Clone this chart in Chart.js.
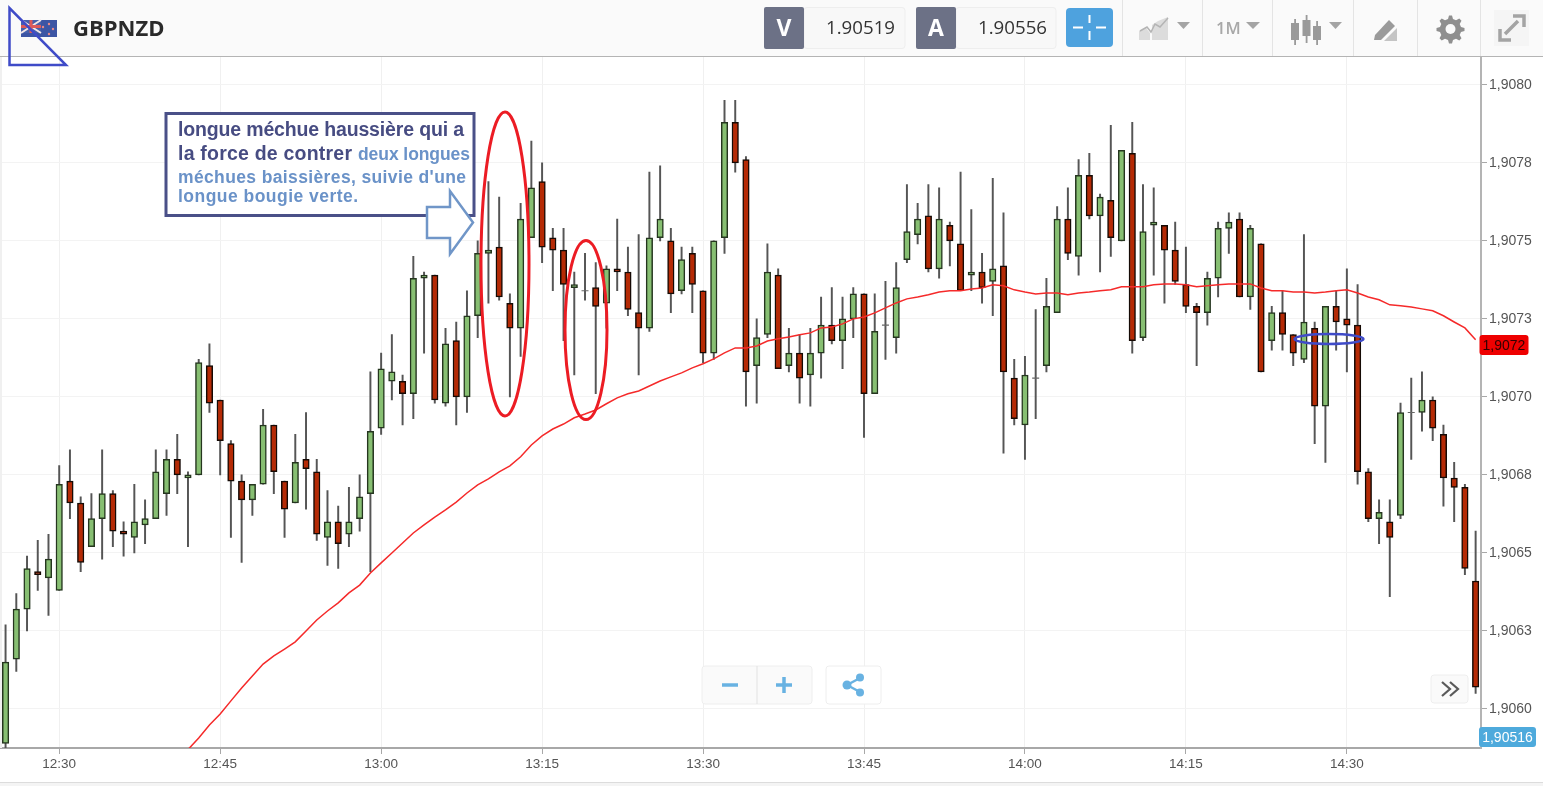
<!DOCTYPE html>
<html lang="fr"><head><meta charset="utf-8"><title>GBPNZD</title>
<script src="https://cdn.jsdelivr.net/npm/chart.js@4"></script>
<style>
html,body{margin:0;padding:0;background:#fff;width:1543px;height:786px;overflow:hidden}
#wrap{position:absolute;left:0;top:0;width:1543px;height:786px;overflow:hidden}
canvas{position:absolute;left:-5px;top:0}
svg.ov{position:absolute;left:0;top:0;pointer-events:none}
</style></head><body>
<div id="wrap"><canvas id="c" width="1548" height="786" style="width:1548px;height:786px"></canvas>
<svg class="ov" width="1543" height="786" viewBox="0 0 1543 786" font-family="'Liberation Sans',Arial,sans-serif">
  <rect x="0" y="57" width="2" height="691" fill="#f0f0f0"/>
  <!-- top bar -->
  <rect x="0" y="0" width="1543" height="56" fill="#fafafa"/>
  <line x1="0" y1="56.5" x2="1543" y2="56.5" stroke="#b4b4b4" stroke-width="1"/>
  <g>
    <rect x="21" y="20" width="36" height="17" fill="#3c55a4"/>
    <rect x="21" y="20" width="20" height="13" fill="#4560ac"/>
    <path d="M21 20L41 33M41 20L21 33" stroke="#f3e6e6" stroke-width="2"/>
    <path d="M31 20V33M21 26.500H41" stroke="#dc5a5a" stroke-width="3"/>
    <circle cx="43" cy="27" r="1.200" fill="#e88a8a"/><circle cx="49" cy="24" r="1.200" fill="#e88a8a"/><circle cx="53" cy="29" r="1.200" fill="#e88a8a"/><circle cx="49" cy="34" r="1.200" fill="#e88a8a"/>
  </g>
  <text x="73" y="35.500" font-family="'Open Sans',sans-serif" font-weight="700" font-size="22" fill="#2a2a2a">GBPNZD</text>
  <path d="M9.500 8V65H66Z" fill="none" stroke="#3f4bc8" stroke-width="2.500"/>
  <g stroke="#e4e4e4"><line x1="1122.500" y1="0" x2="1122.500" y2="56"/><line x1="1202.500" y1="0" x2="1202.500" y2="56"/><line x1="1272.500" y1="0" x2="1272.500" y2="56"/><line x1="1353.500" y1="0" x2="1353.500" y2="56"/><line x1="1417.500" y1="0" x2="1417.500" y2="56"/><line x1="1480.500" y1="0" x2="1480.500" y2="56"/></g>
  <rect x="804" y="7.500" width="101" height="41" rx="3" fill="#f8f8f8" stroke="#eee"/>
  <rect x="764" y="7" width="40" height="42" rx="2" fill="#6c7186"/>
  <text x="784" y="36" text-anchor="middle" font-family="'Open Sans',sans-serif" font-weight="700" font-size="23" fill="#fff">V</text>
  <text x="895" y="34" text-anchor="end" font-family="'Open Sans',sans-serif" font-size="18" fill="#333" textLength="69" lengthAdjust="spacingAndGlyphs">1.90519</text>
  <rect x="956" y="7.500" width="100" height="41" rx="3" fill="#f8f8f8" stroke="#eee"/>
  <rect x="916" y="7" width="40" height="42" rx="2" fill="#6c7186"/>
  <text x="936" y="36" text-anchor="middle" font-family="'Open Sans',sans-serif" font-weight="700" font-size="23" fill="#fff">A</text>
  <text x="1047" y="34" text-anchor="end" font-family="'Open Sans',sans-serif" font-size="18" fill="#333" textLength="69" lengthAdjust="spacingAndGlyphs">1.90556</text>
  <rect x="1066" y="8" width="47" height="39" rx="4" fill="#4ea2de"/>
  <path d="M1089.500 15V23M1089.500 31V40M1073 27.500H1083M1096 27.500H1106" stroke="#fff" stroke-width="2"/>
  <g fill="#dcdcdc"><path d="M1139 40V31L1146 28L1150 33V40Z"/><path d="M1152 40V25L1158 21L1168 17V40Z"/></g>
  <path d="M1140 31L1147 27L1151 32L1155 24L1160 27L1168 18" fill="none" stroke="#b4b4b4" stroke-width="1.500"/>
  <path d="M1177 22H1190L1183.500 29Z" fill="#a4a4a4"/>
  <text x="1216" y="34" font-family="'Open Sans',sans-serif" font-weight="600" font-size="16.500" fill="#a8a8a8">1M</text>
  <path d="M1246 22H1260L1253 29Z" fill="#a4a4a4"/>
  <g fill="#9a9a9a"><rect x="1291" y="23" width="8" height="17"/><rect x="1302.500" y="20" width="8" height="16"/><rect x="1313" y="26" width="8" height="14"/><rect x="1294.200" y="19" width="1.800" height="26"/><rect x="1305.700" y="15" width="1.800" height="28"/><rect x="1316.200" y="21" width="1.800" height="24"/></g>
  <path d="M1329 22H1342L1335.500 29Z" fill="#a4a4a4"/>
  <path d="M1375 35L1389 20L1395 26L1381 40H1374Z" fill="#9a9a9a"/><path d="M1384 41L1397 28V41Z" fill="#c4c4c4"/>
  <path d="M1449 15.500l3 0 1 3.500 3 1.300 3.300-1.800 2.200 2.200-1.800 3.300 1.300 3 3.500 1v3l-3.500 1-1.300 3 1.800 3.300-2.200 2.200-3.300-1.800-3 1.300-1 3.500h-3l-1-3.500-3-1.300-3.300 1.800-2.200-2.200 1.800-3.300-1.300-3-3.500-1v-3l3.500-1 1.300-3-1.800-3.300 2.200-2.200 3.300 1.800 3-1.300z" fill="#8f8f8f"/>
  <circle cx="1450.500" cy="29" r="5" fill="#fafafa"/>
  <rect x="1494" y="10" width="35" height="36" fill="#f5f5f5"/>
  <path d="M1505 34L1518 21M1513 16H1524V27M1500 29V40H1511" fill="none" stroke="#a4a4a4" stroke-width="3.500"/>
  <!-- note box -->
  <rect x="166" y="113.500" width="308" height="102" fill="#fff" stroke="#4a5088" stroke-width="3"/>
  <g font-weight="700">
    <text x="178" y="136" font-size="19.500" fill="#474c82" textLength="286" lengthAdjust="spacing">longue méchue haussière qui a</text>
    <text x="178" y="160" font-size="19.500" fill="#474c82" textLength="174" lengthAdjust="spacing">la force de contrer</text>
    <text x="358" y="160" font-size="17.500" fill="#6a92c8" textLength="112" lengthAdjust="spacing">deux longues</text>
    <text x="178" y="183" font-size="17.500" fill="#6a92c8" textLength="288" lengthAdjust="spacing">méchues  baissières, suivie d'une</text>
    <text x="178" y="202" font-size="17.500" fill="#6a92c8" textLength="180" lengthAdjust="spacing">longue bougie verte.</text>
  </g>
  <path d="M427 207H450V191L473 222.500L450 254V238H427Z" fill="#fff" stroke="#7096c8" stroke-width="2.500"/>
  <!-- hand-drawn marks -->
  <ellipse cx="505" cy="264" rx="24" ry="152" fill="none" stroke="#ec1c24" stroke-width="3"/>
  <ellipse cx="586" cy="330" rx="21" ry="89.500" fill="none" stroke="#ec1c24" stroke-width="3"/>
  <ellipse cx="1329" cy="339" rx="34.500" ry="5" fill="none" stroke="#3f4bc8" stroke-width="2.500"/>
  <!-- axis tags -->
  <rect x="1479.500" y="335" width="49" height="20" rx="3" fill="#ee0000"/>
  <text x="1504" y="350" text-anchor="middle" font-size="14" fill="#300">1,9072</text>
  <rect x="1479" y="727" width="57" height="20" rx="3" fill="#4eaadc"/>
  <text x="1507.500" y="742" text-anchor="middle" font-size="14" fill="#fff">1,90516</text>
  <!-- zoom buttons -->
  <g>
    <rect x="702" y="666" width="110" height="38" rx="3" fill="#fafafa" stroke="#eee"/>
    <line x1="757" y1="666" x2="757" y2="704" stroke="#e2e2e2"/>
    <path d="M722 685H738" stroke="#68b2e2" stroke-width="3.500"/>
    <path d="M776 685H792M784 677V693" stroke="#68b2e2" stroke-width="3.500"/>
    <rect x="826" y="666" width="55" height="38" rx="3" fill="#fff" stroke="#eee"/>
    <path d="M847 685L860 678M847 685L860 692" stroke="#68b2e2" stroke-width="2.500"/>
    <circle cx="847" cy="685" r="4.500" fill="#68b2e2"/><circle cx="860" cy="677.500" r="4" fill="#68b2e2"/><circle cx="860" cy="692.500" r="4" fill="#68b2e2"/>
    <rect x="1431" y="675" width="37" height="28" rx="3" fill="#fafafa" stroke="#eee"/>
    <path d="M1442 682L1450 689L1442 696M1450 682L1458 689L1450 696" fill="none" stroke="#5a5a5a" stroke-width="2.200"/>
  </g>
  <rect x="0" y="782" width="1543" height="4" fill="#f4f4f4"/>
  <line x1="0" y1="782.500" x2="1543" y2="782.500" stroke="#dcdcdc"/>
</svg></div>
<script>
const timeLabels = ['12:25','12:26','12:27','12:28','12:29','12:30','12:31','12:32','12:33','12:34','12:35','12:36','12:37','12:38','12:39','12:40','12:41','12:42','12:43','12:44','12:45','12:46','12:47','12:48','12:49','12:50','12:51','12:52','12:53','12:54','12:55','12:56','12:57','12:58','12:59','13:00','13:01','13:02','13:03','13:04','13:05','13:06','13:07','13:08','13:09','13:10','13:11','13:12','13:13','13:14','13:15','13:16','13:17','13:18','13:19','13:20','13:21','13:22','13:23','13:24','13:25','13:26','13:27','13:28','13:29','13:30','13:31','13:32','13:33','13:34','13:35','13:36','13:37','13:38','13:39','13:40','13:41','13:42','13:43','13:44','13:45','13:46','13:47','13:48','13:49','13:50','13:51','13:52','13:53','13:54','13:55','13:56','13:57','13:58','13:59','14:00','14:01','14:02','14:03','14:04','14:05','14:06','14:07','14:08','14:09','14:10','14:11','14:12','14:13','14:14','14:15','14:16','14:17','14:18','14:19','14:20','14:21','14:22','14:23','14:24','14:25','14:26','14:27','14:28','14:29','14:30','14:31','14:32','14:33','14:34','14:35','14:36','14:37','14:38','14:39','14:40','14:41','14:42'];
const xTickLabels = ['12:30','12:45','13:00','13:15','13:30','13:45','14:00','14:15','14:30'];
const yTickValues = [1.9060,1.90625,1.9065,1.90675,1.9070,1.90725,1.9075,1.90775,1.9080];
const yTickLabels = ['1,9060','1,9063','1,9065','1,9068','1,9070','1,9073','1,9075','1,9078','1,9080'];
const opens = [1.90589,1.90616,1.90632,1.90644,1.90642,1.90638,1.90673,1.90666,1.90652,1.90661,
1.90669,1.90657,1.90655,1.90659,1.90661,1.90669,1.90680,1.90674,1.90675,1.90710,
1.90699,1.90685,1.90673,1.90667,1.90672,1.90691,1.90673,1.90666,1.90680,1.90676,
1.90655,1.90660,1.90656,1.90661,1.90669,1.90690,1.90705,1.90705,1.90701,1.90738,
1.90739,1.90698,1.90718,1.90700,1.90726,1.90746,1.90748,1.90730,1.90722,1.90751,
1.90769,1.90751,1.90747,1.90735,1.90734,1.90735,1.90730,1.90741,1.90740,1.90727,
1.90722,1.90751,1.90750,1.90734,1.90746,1.90734,1.90714,1.90751,1.90788,1.90776,
1.90710,1.90720,1.90739,1.90710,1.90714,1.90707,1.90714,1.90723,1.90718,1.90725,
1.90733,1.90701,1.90723,1.90719,1.90744,1.90752,1.90758,1.90741,1.90755,1.90749,
1.90739,1.90740,1.90737,1.90742,1.90706,1.90691,1.90706,1.90710,1.90727,1.90757,
1.90745,1.90771,1.90758,1.90763,1.90750,1.90778,1.90719,1.90755,1.90755,1.90747,
1.90736,1.90729,1.90727,1.90738,1.90754,1.90757,1.90732,1.90749,1.90718,1.90727,
1.90720,1.90712,1.90722,1.90697,1.90729,1.90725,1.90723,1.90676,1.90661,1.90660,
1.90662,1.90695,1.90695,1.90699,1.90688,1.90674,1.90671,1.90641];
const highs = [1.90627,1.90637,1.90649,1.90654,1.90656,1.90678,1.90683,1.90668,1.90669,1.90683,
1.90670,1.90660,1.90672,1.90667,1.90683,1.90683,1.90688,1.90676,1.90712,1.90717,
1.90699,1.90686,1.90675,1.90672,1.90696,1.90691,1.90673,1.90688,1.90695,1.90680,
1.90670,1.90665,1.90671,1.90675,1.90708,1.90714,1.90720,1.90707,1.90745,1.90740,
1.90739,1.90722,1.90724,1.90734,1.90750,1.90769,1.90764,1.90733,1.90762,1.90782,
1.90775,1.90754,1.90754,1.90740,1.90746,1.90743,1.90742,1.90757,1.90748,1.90752,
1.90772,1.90774,1.90754,1.90748,1.90748,1.90734,1.90750,1.90795,1.90795,1.90777,
1.90725,1.90749,1.90741,1.90722,1.90720,1.90722,1.90732,1.90735,1.90732,1.90735,
1.90733,1.90733,1.90737,1.90743,1.90768,1.90762,1.90768,1.90767,1.90756,1.90772,
1.90760,1.90746,1.90770,1.90759,1.90712,1.90713,1.90728,1.90738,1.90761,1.90767,
1.90776,1.90778,1.90765,1.90787,1.90779,1.90788,1.90768,1.90767,1.90755,1.90756,
1.90748,1.90730,1.90740,1.90756,1.90759,1.90759,1.90755,1.90749,1.90729,1.90734,
1.90720,1.90752,1.90724,1.90729,1.90734,1.90741,1.90736,1.90677,1.90667,1.90667,
1.90698,1.90706,1.90708,1.90700,1.90691,1.90679,1.90672,1.90657];
const lows = [1.90587,1.90612,1.90625,1.90638,1.90630,1.90638,1.90661,1.90644,1.90652,1.90648,
1.90652,1.90649,1.90650,1.90653,1.90661,1.90662,1.90669,1.90652,1.90675,1.90695,
1.90675,1.90655,1.90647,1.90662,1.90672,1.90669,1.90655,1.90666,1.90664,1.90654,
1.90646,1.90645,1.90652,1.90657,1.90644,1.90688,1.90699,1.90691,1.90693,1.90714,
1.90698,1.90697,1.90691,1.90695,1.90719,1.90730,1.90731,1.90700,1.90713,1.90751,
1.90743,1.90734,1.90718,1.90707,1.90731,1.90701,1.90722,1.90734,1.90726,1.90707,
1.90721,1.90750,1.90727,1.90733,1.90727,1.90711,1.90712,1.90746,1.90772,1.90697,
1.90698,1.90719,1.90709,1.90708,1.90698,1.90697,1.90706,1.90717,1.90709,1.90719,
1.90687,1.90701,1.90712,1.90714,1.90743,1.90749,1.90740,1.90738,1.90742,1.90734,
1.90734,1.90730,1.90726,1.90682,1.90691,1.90680,1.90693,1.90708,1.90727,1.90744,
1.90739,1.90757,1.90740,1.90745,1.90750,1.90714,1.90718,1.90739,1.90730,1.90736,
1.90727,1.90710,1.90723,1.90732,1.90746,1.90732,1.90728,1.90708,1.90715,1.90715,
1.90710,1.90711,1.90685,1.90679,1.90715,1.90708,1.90672,1.90660,1.90653,1.90636,
1.90661,1.90680,1.90689,1.90686,1.90665,1.90660,1.90643,1.90605];
const closes = [1.90615,1.90632,1.90645,1.90643,1.90648,1.90672,1.90666,1.90647,1.90661,1.90669,
1.90657,1.90656,1.90660,1.90661,1.90676,1.90680,1.90675,1.90675,1.90711,1.90698,
1.90686,1.90673,1.90667,1.90672,1.90691,1.90676,1.90664,1.90679,1.90677,1.90656,
1.90660,1.90653,1.90660,1.90668,1.90689,1.90709,1.90708,1.90701,1.90738,1.90739,
1.90699,1.90717,1.90700,1.90726,1.90746,1.90747,1.90732,1.90722,1.90757,1.90767,
1.90748,1.90747,1.90736,1.90736,1.90734,1.90729,1.90741,1.90740,1.90728,1.90722,
1.90751,1.90757,1.90733,1.90744,1.90736,1.90714,1.90750,1.90788,1.90775,1.90708,
1.90719,1.90740,1.90709,1.90714,1.90706,1.90714,1.90723,1.90718,1.90725,1.90733,
1.90701,1.90721,1.90723,1.90735,1.90753,1.90757,1.90741,1.90757,1.90750,1.90734,
1.90740,1.90735,1.90741,1.90708,1.90693,1.90707,1.90706,1.90729,1.90757,1.90746,
1.90771,1.90758,1.90764,1.90751,1.90779,1.90718,1.90753,1.90756,1.90747,1.90737,
1.90729,1.90727,1.90738,1.90754,1.90756,1.90732,1.90754,1.90708,1.90727,1.90720,
1.90714,1.90724,1.90697,1.90729,1.90724,1.90723,1.90676,1.90661,1.90663,1.90655,
1.90695,1.90695,1.90699,1.90690,1.90674,1.90671,1.90645,1.90607];
const movingAverage = [null,null,null,null,null,null,null,null,null,null,null,null,null,null,null,null,null,
1.90587,1.905907,1.905949,1.905984,1.906026,1.906067,1.906106,1.906144,1.90617,1.906192,1.906215,1.90625,1.906285,1.906314,1.90634,1.906372,1.906397,1.906436,1.906468,1.9065,1.906532,1.906564,1.90659,1.906615,1.906638,1.906663,1.906692,1.906718,1.906737,1.90676,1.906779,1.906808,1.906846,1.906875,1.906897,1.906913,1.906933,1.906945,1.906958,1.906978,1.906997,1.90701,1.907019,1.907035,1.907051,1.907064,1.907077,1.907093,1.907106,1.907122,1.907141,1.907157,1.907157,1.907163,1.907179,1.907186,1.907192,1.907199,1.907205,1.907221,1.907224,1.907234,1.90725,1.907256,1.907269,1.907285,1.907301,1.907314,1.90732,1.907327,1.907336,1.90734,1.90734,1.907346,1.907349,1.907359,1.907356,1.907343,1.907336,1.90733,1.907333,1.907333,1.907327,1.907333,1.907336,1.90734,1.907343,1.907353,1.907353,1.907353,1.907359,1.907362,1.907362,1.907359,1.907353,1.907356,1.907359,1.907362,1.907362,1.907362,1.907349,1.90734,1.90734,1.907336,1.907336,1.907333,1.907336,1.90734,1.907343,1.907333,1.90732,1.907311,1.907295,1.907292,1.907288,1.907282,1.907276,1.90726,1.90724,1.907221,1.907183];

const wickRanges = lows.map((l,i)=>[l,highs[i]]);
const bodyRanges = opens.map((o,i)=> o===closes[i] ? null : [Math.min(o,closes[i]),Math.max(o,closes[i])]);
const bodyColors = opens.map((o,i)=> closes[i]>o ? '#87bf72' : '#b52a05');
const bodyEdges = opens.map((o,i)=> closes[i]>o ? '#25361f' : '#150a05');
const flatCandles = opens.map((o,i)=> o===closes[i] ? o : null);

const chart = new Chart(document.getElementById('c'),{
  type:'bar',
  data:{labels:timeLabels,datasets:[
    {type:'line',label:'MA',data:movingAverage,borderColor:'#f52a2a',borderWidth:1.5,pointRadius:0,tension:0,spanGaps:false,order:0},
    {type:'line',label:'Doji',data:flatCandles,showLine:false,pointStyle:'line',pointRadius:3.5,pointBorderColor:'#666',pointBorderWidth:1.2,order:1},
    {label:'Body',data:bodyRanges,grouped:false,barThickness:6.5,backgroundColor:bodyColors,borderColor:bodyEdges,borderWidth:1.5,borderSkipped:false,order:2},
    {label:'Wick',data:wickRanges,grouped:false,barThickness:1.3,backgroundColor:'#555',borderWidth:0,order:3}
  ]},
  options:{
    responsive:false,animation:false,devicePixelRatio:1,
    layout:{padding:{top:57,left:0,right:0,bottom:0}},
    plugins:{legend:{display:false},tooltip:{enabled:false},title:{display:false}},
    scales:{
      x:{type:'category',offset:true,
        afterBuildTicks(ax){ax.ticks=ax.ticks.filter(t=>xTickLabels.includes(timeLabels[t.value]));},
        afterFit(ax){ax.height=38;ax.paddingLeft=0;ax.paddingRight=0;},
        grid:{color:'#f0f0f0',lineWidth:1,tickLength:6,tickColor:'#a8a8a8',offset:false},
        border:{color:'#a8a8a8',width:2},
        ticks:{autoSkip:false,maxRotation:0,minRotation:0,padding:2,color:'#555',font:{family:"'Liberation Sans',Arial,sans-serif",size:13.5}}},
      y:{position:'right',min:1.905875,max:1.908089,
        afterBuildTicks(ax){ax.ticks=yTickValues.map(v=>({value:v}));},
        afterFit(ax){ax.width=62;},
        grid:{color:'#f3f3f3',lineWidth:1,tickLength:6,tickColor:'#a8a8a8'},
        border:{color:'#b4b4b4',width:2},
        ticks:{padding:2,color:'#555',font:{family:"'Liberation Sans',Arial,sans-serif",size:14},
          callback(v,i){return yTickLabels[i];}}}
    }
  }
});
</script></body></html>
